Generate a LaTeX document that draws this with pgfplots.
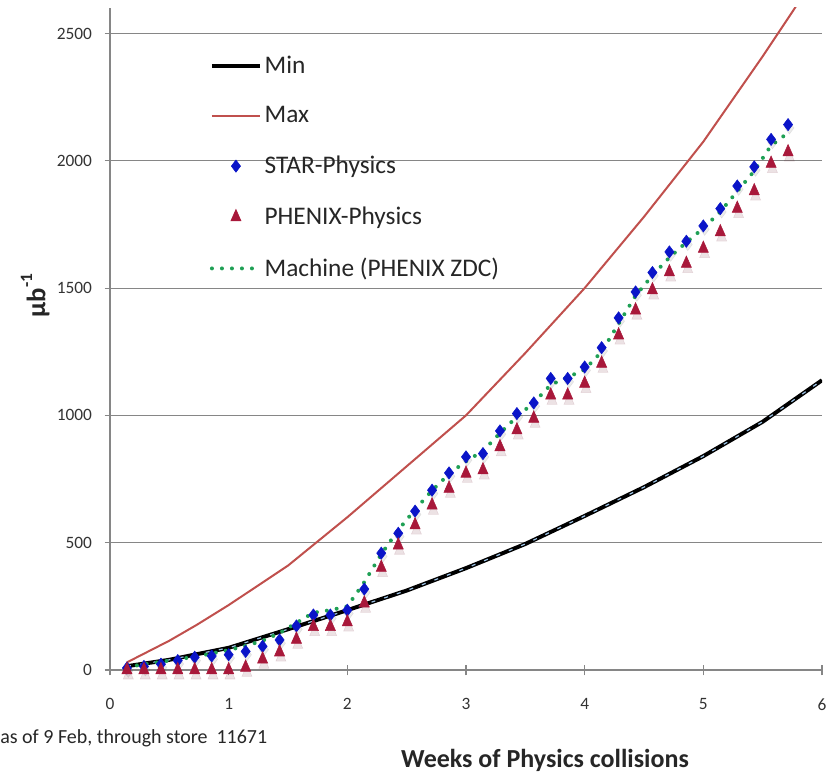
\documentclass[border=0pt]{standalone}
\usepackage{fontspec}
\setmainfont{Carlito}
\usepackage{pgfplots}
\usepackage{pgfplotstable}
\pgfplotsset{compat=1.18}
\definecolor{maxred}{HTML}{C0504D}
\definecolor{starblue}{HTML}{0A14C8}
\definecolor{phxred}{HTML}{A8183A}
\definecolor{zdcgreen}{HTML}{1FA055}
\definecolor{minblue}{HTML}{9DC3E6}
\definecolor{axgray}{HTML}{868686}

\pgfplotstableread{
w      star  phenix machine
0.143    8     0     12
0.286   14     0     22
0.429   23     0     32
0.571   37     0     42
0.714   50     0     52
0.857   55     0     65
1.000   60     0     78
1.143   73    10     95
1.286   93    42    115
1.429  118    70    145
1.571  173   120    185
1.714  216   170    225
1.857  216   170    235
2.000  235   188    250
2.143  318   262    345
2.286  459   402    455
2.429  537   490    550
2.571  624   569    630
2.714  706   647    705
2.857  774   713    770
3.000  837   772    820
3.143  850   785    860
3.286  939   876    930
3.429 1007   942    995
3.571 1049   988   1050
3.714 1145  1079   1120
3.857 1145  1079   1150
4.000 1190  1125   1180
4.143 1266  1204   1250
4.286 1383  1315   1360
4.429 1485  1413   1470
4.571 1561  1492   1550
4.714 1642  1563   1620
4.857 1684  1596   1680
5.000 1744  1655   1735
5.143 1812  1720   1800
5.286 1901  1812   1880
5.429 1976  1881   1960
5.571 2084  1989   2060
5.714 2142  2034   2110
}\phys

\pgfplotstableread{
w     min   max
0.143   15    30
0.5     40   115
0.73    62   177
1.0     87   255
1.5    160   410
2.0    235   600
2.5    312   800
3.0    400  1000
3.5    495  1245
4.0    605  1500
4.5    718  1780
5.0    840  2075
5.5    975  2410
6.0   1138  2760
}\proj

\begin{document}
\begin{tikzpicture}
\begin{axis}[
  scale only axis, width=534pt, height=496.5pt,
  xmin=0, xmax=6, ymin=0, ymax=2600,
  axis x line*=bottom, axis y line*=left,
  axis line style={draw=axgray, line width=0.8pt},
  xtick={0,1,...,6}, ytick={0,500,...,2500},
  ymajorgrids, grid style={draw=axgray, line width=0.8pt},
  tick style={draw=axgray, line width=0.8pt}, tick align=center,
  major tick length=8pt,
  tick label style={font=\fontsize{13}{15}\selectfont, text=black!80},
  yticklabel style={xshift=-6pt},
  xticklabel style={yshift=-14pt},
  /pgf/number format/assume math mode=true,
  /pgf/number format/1000 sep={},
  xlabel={Weeks of Physics collisions},
  xlabel style={at={(axis description cs:0.611,-0.137)}, anchor=center,
    font=\fontsize{19.5}{22}\selectfont\bfseries, text=black!85},
  ylabel={µb\raisebox{0.5em}{\fontsize{13}{13}\selectfont -1}},
  every axis y label/.style={at={(axis description cs:-0.105,0.566)}, rotate=90, anchor=center,
    font=\fontsize{20}{22}\selectfont\bfseries, text=black!85},
  legend cell align=left,
  legend style={at={(0.14,0.936)}, anchor=north west, draw=none, fill=none,
    font=\fontsize{19}{21}\selectfont, text=black!85, row sep=19.5pt,
    inner xsep=0pt},
  legend image code/.code={%
    \draw[mark repeat=2, mark phase=2, #1] plot coordinates {(0pt,0pt) (18pt,0pt) (36pt,0pt)};},
]
% Min
\addplot[color=black, line width=3pt, no marks] table[x=w, y=min]{\proj};
\addlegendentry{Min}
% Max
\addplot[color=maxred, line width=1.5pt, no marks] table[x=w, y=max]{\proj};
\addlegendentry{Max}
\addplot[color=minblue, line width=0.9pt, dash pattern=on 3pt off 7pt, no marks, forget plot] table[x=w, y=min]{\proj};
% shadows
\addplot[only marks, mark=diamond*, mark size=4.6pt, color=black, opacity=0.08,
  mark options={xshift=1pt, yshift=-2.5pt}, forget plot] table[x=w, y=star]{\phys};
\addplot[only marks, mark=triangle*, mark size=4.4pt, color=phxred!60!black, opacity=0.12,
  mark options={yscale=1.3, xshift=1pt, yshift=-3pt}, forget plot] table[x=w, y=phenix]{\phys};
% STAR
\addplot[only marks, mark=diamond*, mark size=4.6pt, color=starblue] table[x=w, y=star]{\phys};
\addlegendentry{STAR-Physics}
% PHENIX
\addplot[only marks, mark=triangle*, mark size=4.4pt, color=phxred, mark options={yscale=1.3}] table[x=w, y=phenix]{\phys};
\addlegendentry{PHENIX-Physics}
% Machine
\addplot[color=zdcgreen, line width=3pt, line cap=round, dash pattern=on 0pt off 7.5pt, no marks] table[x=w, y=machine]{\phys};
\addlegendentry{Machine (PHENIX ZDC)}
\end{axis}
\node[anchor=west, font=\fontsize{15}{17}\selectfont, text=black!85, inner sep=0pt] at (-82.5pt,-51pt) {as of 9 Feb, through store\ \ 11671};
\useasboundingbox (-82.5pt,-77.25pt) rectangle (546.75pt,502.5pt);
\end{tikzpicture}
\end{document}
